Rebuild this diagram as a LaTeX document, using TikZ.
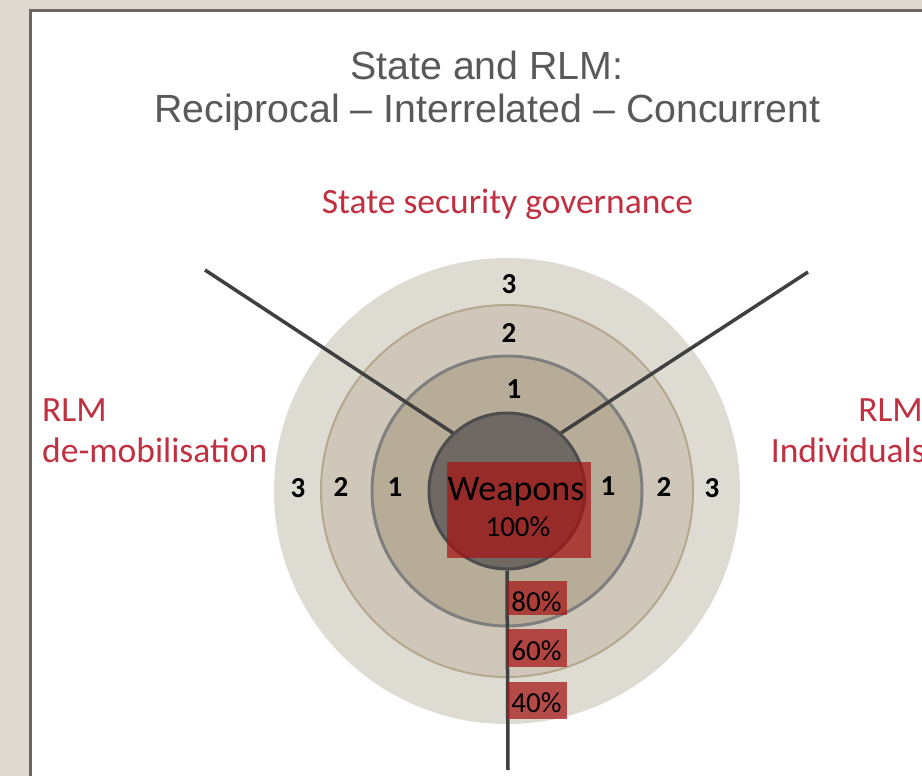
\documentclass[tikz,border=0pt]{standalone}
\usepackage{fontspec}
\setmainfont{Carlito}
\newfontfamily\titlefont[Ligatures=TeX]{Liberation Sans}
\definecolor{bgout}{RGB}{224,217,208}
\definecolor{frame}{RGB}{107,102,98}
\definecolor{titlegray}{RGB}{89,89,89}
\definecolor{redtxt}{RGB}{192,48,64}
\definecolor{ringA}{RGB}{222,219,210}
\definecolor{ringB}{RGB}{207,199,185}
\definecolor{ringBline}{RGB}{181,168,143}
\definecolor{ringC}{RGB}{183,172,152}
\definecolor{ringCline}{RGB}{127,127,127}
\definecolor{coreF}{RGB}{112,104,99}
\definecolor{coreL}{RGB}{77,77,77}
\definecolor{spoke}{RGB}{64,64,64}
\definecolor{boxred}{RGB}{165,20,20}
\tikzset{
  ring/.style={circle, inner sep=0pt},
  spokeline/.style={draw=spoke, line width=3.5pt},
  redbox/.style={fill=boxred, fill opacity=0.72},
  num/.style={font=\bfseries\fontsize{29}{33}\selectfont, inner sep=0pt, text=black},
  redlab/.style={font=\fontsize{35.5}{40}\selectfont, text=redtxt, inner sep=0pt, anchor=base},
  pct/.style={font=\fontsize{29}{33}\selectfont, text=black, inner sep=0pt, anchor=base},
  ttl/.style={font=\titlefont\fontsize{39.3}{44}\selectfont, text=titlegray, inner sep=0pt, anchor=base}
}
\begin{document}
\begin{tikzpicture}[x=1pt,y=-1pt]
\useasboundingbox (0,0) rectangle (922,776);
\fill[bgout] (0,0) rectangle (922,776);
\begin{scope}
\clip (0,0) rectangle (922,776);
\draw[frame, fill=white, line width=3pt] (30.5,11) rectangle (940,800);
% rings
\node[ring, fill=ringA, minimum size=466pt] (r3) at (507,491) {};
\node[ring, fill=ringB, draw=ringBline, line width=2pt, minimum size=372pt] (r2) at (507,491) {};
\node[ring, fill=ringC, draw=ringCline, line width=3pt, minimum size=270pt] (r1) at (507,491) {};
\node[ring, fill=coreF, draw=coreL, line width=3pt, minimum size=156pt] (core) at (507,491) {};
% spokes
\coordinate (lend) at (205,270);
\coordinate (rend) at (808,272);
\coordinate (bend) at (508,770);
\draw[spokeline] (lend) -- (core.133);
\draw[spokeline] (rend) -- (core.47);
\draw[spokeline] (core.south) -- (bend);
% red boxes
\fill[redbox] (447,462) rectangle (591,558);
\fill[redbox] (507,581) rectangle (567,615);
\fill[redbox] (507,629) rectangle (567,667);
\fill[redbox] (507,682) rectangle (567,719);
% texts
\node[ttl] (t1) at (487,80) {State and RLM:};
\node[ttl] (t2) at (487.5,123) {Reciprocal \textendash{} Interrelated \textendash{} Concurrent};
\node[redlab] (ssg) at (507.5,213) {State security governance};
\node[redlab, anchor=base west] (l1) at (42,421) {RLM};
\node[redlab, anchor=base west] (l2) at (42,462) {de-mobilisation};
\node[redlab, anchor=base east] (rr1) at (923,421) {RLM};
\node[redlab, anchor=base east] (rr2) at (926,462) {Individuals};
\node[num] (n3t) at (509,284) {3};
\node[num] (n2t) at (509,333) {2};
\node[num] (n1t) at (514,389) {1};
\node[num] (n3l) at (298,488) {3};
\node[num] (n2l) at (341,487) {2};
\node[num] (n1l) at (395,487) {1};
\node[num] (n1r) at (608,486) {1};
\node[num] (n2r) at (664,487) {2};
\node[num] (n3r) at (712,488) {3};
\node[font=\fontsize{36}{40}\selectfont, text=black, inner sep=0pt, anchor=base] (wp) at (516,500) {Weapons};
\node[pct] (p100) at (518,536) {100\%};
\node[pct] (p80) at (536.5,611) {80\%};
\node[pct] (p60) at (536.5,660) {60\%};
\node[pct] (p40) at (536.5,712) {40\%};
\end{scope}
\end{tikzpicture}
\end{document}
